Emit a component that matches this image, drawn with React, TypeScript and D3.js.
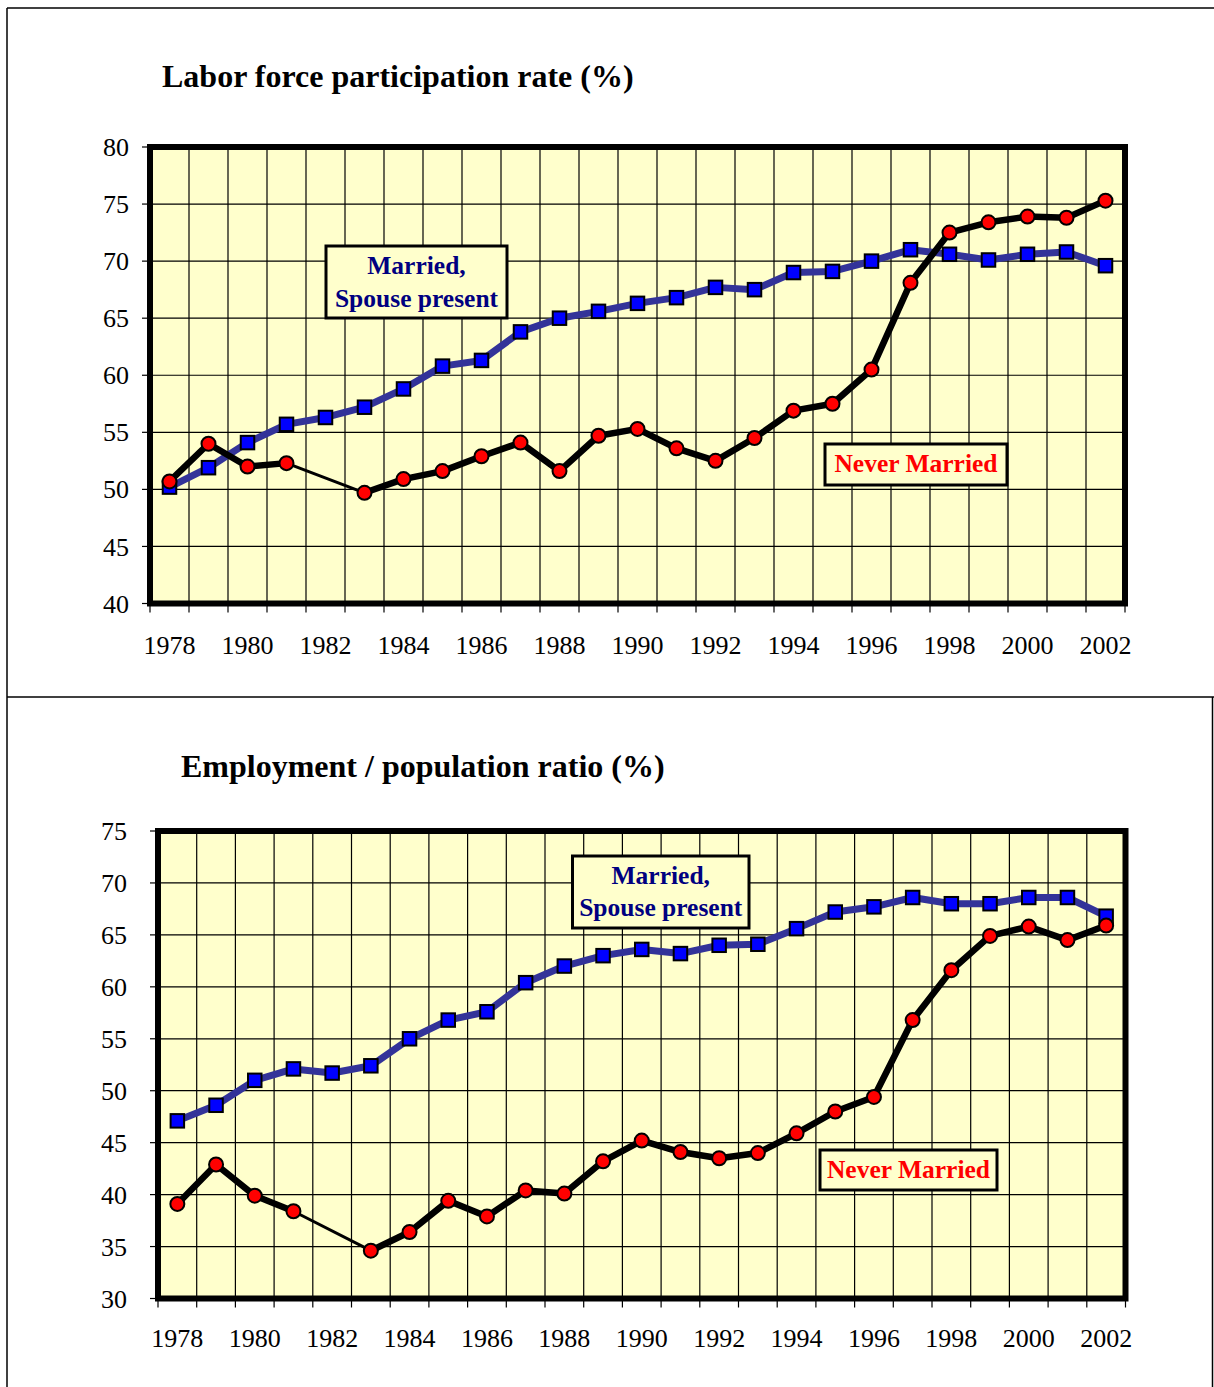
import React from 'react';
import * as d3 from 'd3';

// ---------- DATA ----------
const years = [1978, 1979, 1980, 1981, 1982, 1983, 1984, 1985, 1986, 1987, 1988, 1989, 1990,
  1991, 1992, 1993, 1994, 1995, 1996, 1997, 1998, 1999, 2000, 2001, 2002];

const labeledYears = [1978, 1980, 1982, 1984, 1986, 1988, 1990, 1992, 1994, 1996, 1998, 2000, 2002];

// Labor force participation rate (%)
const lfpMarried = [50.2, 51.9, 54.1, 55.7, 56.3, 57.2, 58.8, 60.8, 61.3, 63.8, 65.0, 65.6, 66.3,
  66.8, 67.7, 67.5, 69.0, 69.1, 70.0, 71.0, 70.6, 70.1, 70.6, 70.8, 69.6];
const lfpNever: (number | null)[] = [50.7, 54.0, 52.0, 52.3, null, 49.7, 50.9, 51.6, 52.9, 54.1, 51.6, 54.7, 55.3,
  53.6, 52.5, 54.5, 56.9, 57.5, 60.5, 68.1, 72.5, 73.4, 73.9, 73.8, 75.3];
const lfpTicks = [40, 45, 50, 55, 60, 65, 70, 75, 80];

// Employment / population ratio (%)
const epMarried = [47.1, 48.6, 51.0, 52.1, 51.7, 52.4, 55.0, 56.8, 57.6, 60.4, 62.0, 63.0, 63.6,
  63.2, 64.0, 64.1, 65.6, 67.2, 67.7, 68.6, 68.0, 68.0, 68.6, 68.6, 66.8];
const epNever: (number | null)[] = [39.1, 42.9, 39.9, 38.4, null, 34.6, 36.4, 39.4, 37.9, 40.4, 40.1, 43.2, 45.2,
  44.1, 43.5, 44.0, 45.9, 48.0, 49.4, 56.8, 61.6, 64.9, 65.8, 64.5, 65.9];
const epTicks = [30, 35, 40, 45, 50, 55, 60, 65, 70, 75];

const marriedLabel = ['Married,', 'Spouse present'];
const neverLabel = 'Never Married';

// ---------- STYLE ----------
const FONT = "'Liberation Serif', 'Times New Roman', Times, serif";
const BG = '#FFFFCC';
const BLUE_LINE = '#333399';
const BLUE_MARK = '#0000FF';
const RED_MARK = '#FF0000';
const NAVY = '#000080';

type Box = { x0: number; x1: number; y0: number; y1: number; base: number[] };

type PanelProps = {
  title: string;
  titleX: number;
  titleY: number;
  left: number;
  right: number;
  top: number;
  bottom: number;
  ticks: number[];
  married: number[];
  never: (number | null)[];
  labelBase: number;
  yLabelX: number;
  mBox: Box;
  nBox: Box;
};

function Panel(p: PanelProps) {
  const x = d3.scaleBand<number>().domain(years).range([p.left, p.right]).paddingInner(0).paddingOuter(0);
  const y = d3.scaleLinear().domain([d3.min(p.ticks)!, d3.max(p.ticks)!]).range([p.bottom, p.top]);
  const cx = (yr: number) => x(yr)! + x.bandwidth() / 2;

  const mPts = years.map((yr, i) => ({ yr, v: p.married[i] as number | null }));
  const nPts = years.map((yr, i) => ({ yr, v: p.never[i] }));

  const line = d3.line<{ yr: number; v: number | null }>()
    .defined(d => d.v != null)
    .x(d => cx(d.yr))
    .y(d => y(d.v as number));

  const mPath = line(mPts) || '';
  const nPath = line(nPts) || '';
  const nGapPath = line(nPts.filter(d => d.v != null)) || '';

  const boundaries = years.map(yr => x(yr)!).concat([p.right]);
  const sq = 13.5;

  return (
    <g>
      <text x={p.titleX} y={p.titleY} fontFamily={FONT} fontWeight="bold" fontSize={32} fill="#000">{p.title}</text>
      <rect x={p.left} y={p.top} width={p.right - p.left} height={p.bottom - p.top} fill={BG} />
      {/* grid */}
      {p.ticks.map(t => (
        <line key={'h' + t} x1={p.left} x2={p.right} y1={y(t)} y2={y(t)} stroke="#000" strokeWidth={1.2} />
      ))}
      {boundaries.map((b, i) => (
        <line key={'v' + i} x1={b} x2={b} y1={p.top} y2={p.bottom} stroke="#000" strokeWidth={1.2} />
      ))}
      {/* y ticks and labels */}
      {p.ticks.map(t => (
        <g key={'yt' + t}>
          <line x1={p.left - 8} x2={p.left} y1={y(t)} y2={y(t)} stroke="#000" strokeWidth={1.2} />
          <text x={p.yLabelX} y={y(t)} dy="0.35em" textAnchor="end" fontFamily={FONT} fontSize={26} fill="#000">{t}</text>
        </g>
      ))}
      {/* x ticks */}
      {boundaries.map((b, i) => (
        <line key={'xt' + i} x1={b} x2={b} y1={p.bottom} y2={p.bottom + 9} stroke="#000" strokeWidth={1.2} />
      ))}
      {labeledYears.map(yr => (
        <text key={'xl' + yr} x={cx(yr)} y={p.labelBase} textAnchor="middle" fontFamily={FONT} fontSize={26} fill="#000">{yr}</text>
      ))}
      {/* frame */}
      <rect x={p.left} y={p.top} width={p.right - p.left} height={p.bottom - p.top} fill="none" stroke="#000" strokeWidth={6} />
      {/* annotation boxes */}
      <rect x={p.mBox.x0} y={p.mBox.y0} width={p.mBox.x1 - p.mBox.x0} height={p.mBox.y1 - p.mBox.y0} fill={BG} stroke="#000" strokeWidth={3} />
      {marriedLabel.map((s, i) => (
        <text key={'ml' + i} x={(p.mBox.x0 + p.mBox.x1) / 2} y={p.mBox.base[i]} textAnchor="middle" fontFamily={FONT} fontWeight="bold" fontSize={25.5} fill={NAVY}>{s}</text>
      ))}
      <rect x={p.nBox.x0} y={p.nBox.y0} width={p.nBox.x1 - p.nBox.x0} height={p.nBox.y1 - p.nBox.y0} fill={BG} stroke="#000" strokeWidth={3} />
      <text x={(p.nBox.x0 + p.nBox.x1) / 2} y={p.nBox.base[0]} textAnchor="middle" fontFamily={FONT} fontWeight="bold" fontSize={25.5} fill={RED_MARK}>{neverLabel}</text>
      {/* married series */}
      <path d={mPath} fill="none" stroke={BLUE_LINE} strokeWidth={7} strokeLinejoin="round" />
      {mPts.map(d => (
        <rect key={'m' + d.yr} x={cx(d.yr) - sq / 2} y={y(d.v as number) - sq / 2} width={sq} height={sq} fill={BLUE_MARK} stroke="#000" strokeWidth={2} />
      ))}
      {/* never married series */}
      <path d={nGapPath} fill="none" stroke="#000" strokeWidth={3} strokeLinejoin="round" />
      <path d={nPath} fill="none" stroke="#000" strokeWidth={6.5} strokeLinejoin="round" />
      {nPts.filter(d => d.v != null).map(d => (
        <circle key={'n' + d.yr} cx={cx(d.yr)} cy={y(d.v as number)} r={7} fill={RED_MARK} stroke="#000" strokeWidth={2} />
      ))}
    </g>
  );
}

export default function App() {
  return (
    <svg width={1214} height={1387} style={{ position: 'absolute', left: 0, top: 0, background: '#fff' }}>
      <rect x={0} y={0} width={1214} height={1387} fill="#fff" />
      {/* page frames */}
      <line x1={7} x2={1214} y1={8} y2={8} stroke="#000" strokeWidth={1.5} />
      <line x1={7} x2={7} y1={8} y2={1387} stroke="#000" strokeWidth={1.5} />
      <line x1={7} x2={1214} y1={697} y2={697} stroke="#000" strokeWidth={1.5} />
      <line x1={1212.5} x2={1212.5} y1={697} y2={1387} stroke="#000" strokeWidth={1.5} />
      <Panel
        title="Labor force participation rate (%)"
        titleX={162}
        titleY={87}
        left={150}
        right={1125}
        top={147}
        bottom={603.5}
        ticks={lfpTicks}
        married={lfpMarried}
        never={lfpNever}
        labelBase={654}
        yLabelX={129}
        mBox={{ x0: 326, x1: 507, y0: 246, y1: 318, base: [274, 307] }}
        nBox={{ x0: 825, x1: 1007, y0: 444, y1: 485, base: [472] }}
      />
      <Panel
        title="Employment / population ratio (%)"
        titleX={181}
        titleY={777}
        left={158}
        right={1125.5}
        top={831}
        bottom={1298.5}
        ticks={epTicks}
        married={epMarried}
        never={epNever}
        labelBase={1347}
        yLabelX={127}
        mBox={{ x0: 572.5, x1: 749, y0: 856, y1: 928, base: [884, 916] }}
        nBox={{ x0: 820, x1: 997, y0: 1150, y1: 1190, base: [1178] }}
      />
    </svg>
  );
}
